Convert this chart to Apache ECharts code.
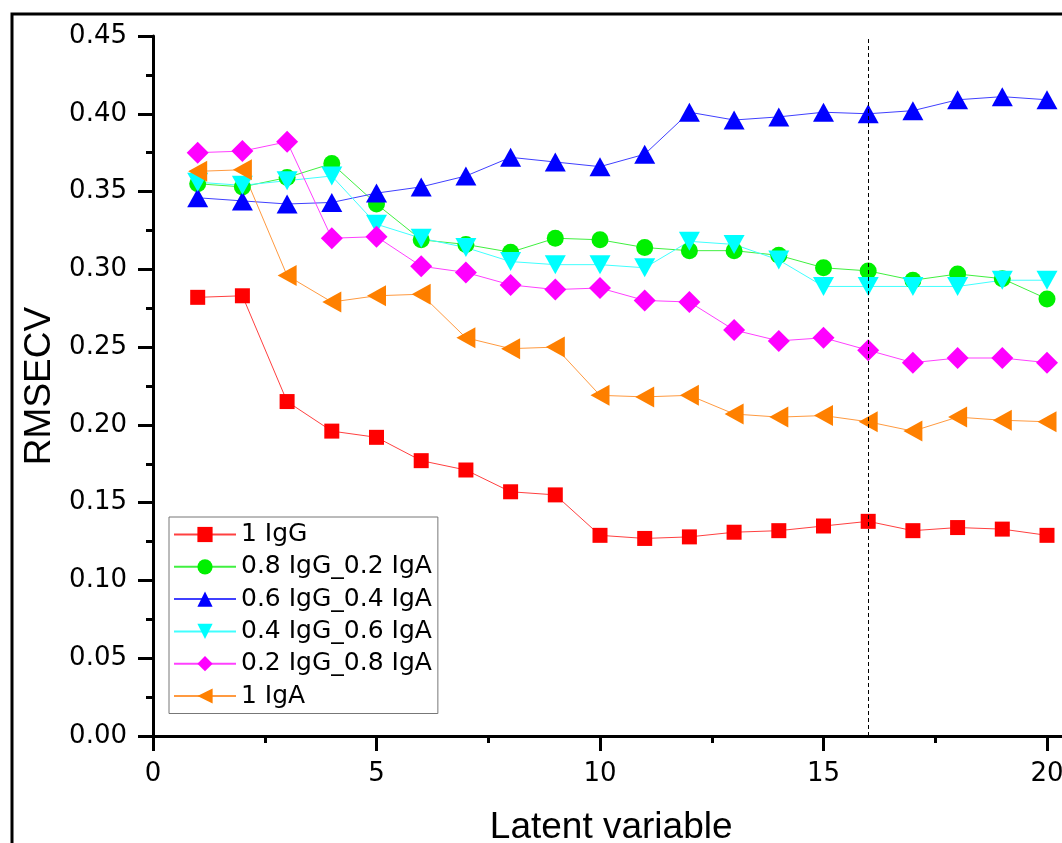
<!DOCTYPE html>
<html><head><meta charset="utf-8">
<script src="https://cdn.jsdelivr.net/npm/echarts@6/dist/echarts.min.js"></script>
<style>html,body{margin:0;padding:0;background:#fff;}#c{width:1062px;height:843px;}</style>
</head><body><div id="c"></div>
<script>
// ---- data ----
const latentVariables = [1,2,3,4,5,6,7,8,9,10,11,12,13,14,15,16,17,18,19,20];
const seriesNames = ['1 IgG','0.8 IgG_0.2 IgA','0.6 IgG_0.4 IgA','0.4 IgG_0.6 IgA','0.2 IgG_0.8 IgA','1 IgA'];
const igG1      = [0.282,0.283,0.215,0.196,0.192,0.177,0.171,0.157,0.155,0.129,0.127,0.128,0.131,0.132,0.135,0.138,0.132,0.134,0.133,0.129];
const igG08A02  = [0.355,0.353,0.359,0.368,0.342,0.319,0.316,0.311,0.320,0.319,0.314,0.312,0.312,0.309,0.301,0.299,0.293,0.297,0.294,0.281];
const igG06A04  = [0.346,0.344,0.342,0.343,0.349,0.353,0.360,0.372,0.369,0.366,0.374,0.401,0.396,0.398,0.401,0.400,0.402,0.409,0.411,0.409];
const igG04A06  = [0.356,0.354,0.357,0.360,0.329,0.320,0.314,0.305,0.303,0.303,0.301,0.318,0.316,0.306,0.289,0.289,0.289,0.289,0.293,0.293];
const igG02A08  = [0.375,0.376,0.382,0.320,0.321,0.302,0.298,0.290,0.287,0.288,0.280,0.279,0.261,0.254,0.256,0.248,0.240,0.243,0.243,0.240];
const igA1      = [0.363,0.364,0.296,0.279,0.283,0.284,0.256,0.249,0.250,0.219,0.218,0.219,0.207,0.205,0.206,0.202,0.196,0.205,0.203,0.202];
const selectedLV = 16;
const xAxisTitle = 'Latent variable';
const yAxisTitle = 'RMSECV';

// ---- styles ----
const values = [igG1, igG08A02, igG06A04, igG04A06, igG02A08, igA1];
const fills = ['#ff0000','#00f000','#0000ff','#00ffff','#ff00ff','#ff8000'];
const lines = ['#ff4040','#40f040','#4040ff','#40ffff','#ff40ff','#ff9a40'];
const symbols = ['rect','circle','triangle','path://M0,0 L10,0 L5,9 Z','diamond','path://M10,0 L10,10 L0,5 Z'];
const sizes = [15,17,[21,19],[21,19],[22,22],[19,21]];

const tickFont = '"DejaVu Sans", sans-serif';
const series = values.map((arr, i) => {
  const s = {
    name: seriesNames[i],
    type: 'line',
    data: arr.map((v, j) => [latentVariables[j], v]),
    symbol: symbols[i],
    symbolSize: sizes[i],
    showAllSymbol: true,
    itemStyle: { color: fills[i] },
    lineStyle: { color: lines[i], width: 1 },
    emphasis: { disabled: true },
    animation: false
  };
  if (i === 0) {
    s.markLine = {
      silent: true,
      symbol: ['none','none'],
      label: { show: false },
      lineStyle: { color: '#000', type: [4,3], width: 1 },
      data: [{ xAxis: selectedLV }],
      animation: false
    };
  }
  return s;
});

const chart = echarts.init(document.getElementById('c'), null, { renderer: 'canvas' });
chart.setOption({
  backgroundColor: '#ffffff',
  animation: false,
  graphic: [{
    type: 'rect', z: -10, silent: true,
    shape: { x: 12, y: 14, width: 1200, height: 1000 },
    style: { fill: 'none', stroke: '#000', lineWidth: 3 }
  }],
  grid: { left: 153, top: 36, width: 44.7 * 20.5, height: 700, containLabel: false, outerBoundsMode: 'none' },
  xAxis: {
    type: 'value', min: 0, max: 20.5, interval: 5,
    name: xAxisTitle, nameLocation: 'middle', nameGap: 73,
    nameTextStyle: { fontFamily: '"Liberation Sans", Arial, sans-serif', fontSize: 37, color: '#000' },
    axisLine: { show: true, onZero: false, lineStyle: { color: '#000', width: 3 } },
    axisTick: { show: true, inside: false, length: 15, lineStyle: { color: '#000', width: 3 } },
    minorTick: { show: true, splitNumber: 2, length: 7, lineStyle: { color: '#000', width: 3 } },
    axisLabel: { margin: 25, fontFamily: tickFont, fontSize: 26, color: '#000',
      formatter: v => (v % 5 === 0 ? String(v) : '') },
    splitLine: { show: false }
  },
  yAxis: {
    type: 'value', min: 0, max: 0.45, interval: 0.05,
    name: yAxisTitle, nameLocation: 'middle', nameGap: 93, nameRotate: 90,
    nameTextStyle: { fontFamily: '"Liberation Sans", Arial, sans-serif', fontSize: 37, color: '#000' },
    axisLine: { show: true, onZero: false, lineStyle: { color: '#000', width: 3 } },
    axisTick: { show: true, inside: false, length: 15, lineStyle: { color: '#000', width: 3 } },
    minorTick: { show: true, splitNumber: 2, length: 7, lineStyle: { color: '#000', width: 3 } },
    axisLabel: { margin: 26, fontFamily: tickFont, fontSize: 26, color: '#000',
      formatter: v => v.toFixed(2) },
    splitLine: { show: false }
  },
  legend: {
    orient: 'vertical', left: 169, top: 517,
    padding: [5, 6, 5, 4],
    backgroundColor: '#fff',
    borderColor: '#777', borderWidth: 1,
    itemWidth: 62, itemHeight: 19, itemGap: 7.3,
    selectedMode: false,
    textStyle: { fontFamily: tickFont, fontSize: 25, color: '#000' },
    data: seriesNames
  },
  series: series
});
</script></body></html>
